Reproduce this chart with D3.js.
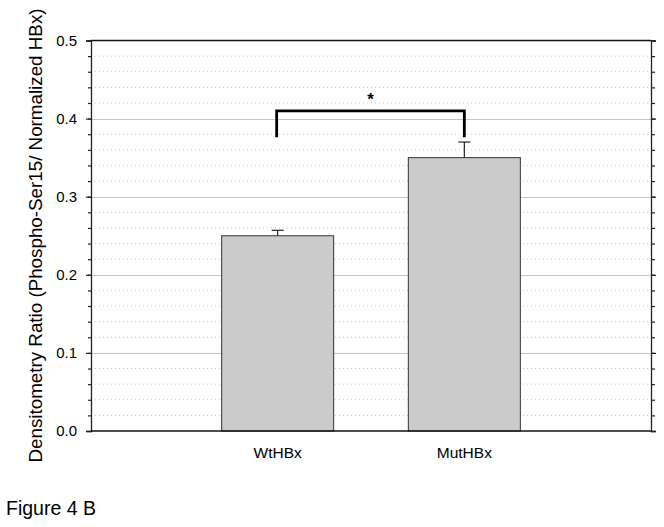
<!DOCTYPE html>
<html>
<head>
<meta charset="utf-8">
<script src="https://cdn.jsdelivr.net/npm/d3@7"></script>
<style>
  body { margin: 0; background: #fff; }
  text { font-family: "Liberation Sans", Arial, sans-serif; fill: #000; }
</style>
</head>
<body>
<div id="chart"></div>
<script>
(function () {
    // data
    var categories = ["WtHBx", "MutHBx"];
    var means = [0.25, 0.35];
    var errors = [0.007, 0.02];
    var yTicks = [0.0, 0.1, 0.2, 0.3, 0.4, 0.5];
    var yMinor = d3.range(0, 0.5001, 0.02);
    var bracket = { from: "WtHBx", to: "MutHBx", top: 0.41, bottom: 0.376, label: "*" };

    var W = 664, H = 527;
    var left = 91, right = 651, top = 40.5, bottom = 431;

    var svg = d3.select("#chart")
        .append("svg")
        .attr("width", W)
        .attr("height", H);

    var y = d3.scaleLinear().domain([0, 0.5]).range([bottom, top]);
    var x = d3.scaleBand()
        .domain(categories)
        .range([left, right])
        .paddingInner(0.4)
        .paddingOuter(0.7);

    // minor dotted grid
    svg.append("g")
        .selectAll("line")
        .data(yMinor.filter(function (v) { return Math.round(v * 100) % 10 !== 0; }))
        .join("line")
        .attr("x1", left).attr("x2", right)
        .attr("y1", function (d) { return y(d); })
        .attr("y2", function (d) { return y(d); })
        .attr("stroke", "#c8c8c8")
        .attr("stroke-width", 1)
        .attr("stroke-dasharray", "1,3");

    // major grid
    svg.append("g")
        .selectAll("line")
        .data(yTicks.slice(1, -1))
        .join("line")
        .attr("x1", left).attr("x2", right)
        .attr("y1", function (d) { return Math.round(y(d)) + 0.5; })
        .attr("y2", function (d) { return Math.round(y(d)) + 0.5; })
        .attr("stroke", "#c4c4c4")
        .attr("stroke-width", 1);

    // bars
    svg.append("g")
        .selectAll("rect")
        .data(categories)
        .join("rect")
        .attr("x", function (d) { return x(d); })
        .attr("y", function (d, i) { return y(means[i]); })
        .attr("width", x.bandwidth())
        .attr("height", function (d, i) { return y(0) - y(means[i]); })
        .attr("fill", "#cbcbcb")
        .attr("stroke", "#333")
        .attr("stroke-width", 1);

    // error bars (upper only)
    var eb = svg.append("g").attr("stroke", "#222").attr("stroke-width", 1.2);
    categories.forEach(function (c, i) {
        var cx = x(c) + x.bandwidth() / 2;
        eb.append("line")
            .attr("x1", cx).attr("x2", cx)
            .attr("y1", y(means[i])).attr("y2", y(means[i] + errors[i]));
        eb.append("line")
            .attr("x1", cx - 6).attr("x2", cx + 6)
            .attr("y1", y(means[i] + errors[i])).attr("y2", y(means[i] + errors[i]));
    });

    // axes frame
    var yAxisL = d3.axisLeft(y).tickValues(yTicks).tickSize(5).tickFormat(d3.format(".1f"));
    var gL = svg.append("g")
        .attr("transform", "translate(" + left + ",0)")
        .call(yAxisL);
    gL.selectAll("text")
        .attr("x", -14)
        .style("font-size", "15px")
        .style("font-family", "Liberation Sans, Arial, sans-serif");

    var minorL = d3.axisLeft(y).tickValues(yMinor).tickSize(3).tickFormat("");
    svg.append("g").attr("transform", "translate(" + left + ",0)").call(minorL)
        .select(".domain").remove();

    var gR = svg.append("g")
        .attr("transform", "translate(" + right + ",0)")
        .call(d3.axisRight(y).tickValues(yTicks).tickSize(5).tickFormat(""));
    svg.append("g").attr("transform", "translate(" + right + ",0)")
        .call(d3.axisRight(y).tickValues(yMinor).tickSize(4).tickFormat(""))
        .select(".domain").remove();

    svg.selectAll(".domain").attr("stroke", "#222").attr("stroke-width", 1.3);
    svg.selectAll(".tick line").attr("stroke", "#222").attr("stroke-width", 1.2);

    // top and bottom lines
    svg.append("line").attr("x1", left).attr("x2", right)
        .attr("y1", y(0.5)).attr("y2", y(0.5))
        .attr("stroke", "#111").attr("stroke-width", 1.5);
    svg.append("line").attr("x1", left).attr("x2", right)
        .attr("y1", y(0)).attr("y2", y(0))
        .attr("stroke", "#111").attr("stroke-width", 1.5);

    // x labels
    var gx = svg.append("g")
        .attr("transform", "translate(0," + bottom + ")")
        .call(d3.axisBottom(x).tickSize(0).tickPadding(0));
    gx.select(".domain").remove();
    gx.selectAll("text")
        .attr("y", 27)
        .attr("dy", 0)
        .style("font-size", "15.5px")
        .style("font-family", "Liberation Sans, Arial, sans-serif");

    // significance bracket
    var bx1 = x(bracket.from) + x.bandwidth() / 2 - 1;
    var bx2 = x(bracket.to) + x.bandwidth() / 2;
    svg.append("path")
        .attr("d", "M" + bx1 + "," + y(bracket.bottom) +
            "V" + y(bracket.top) + "H" + bx2 + "V" + y(bracket.bottom))
        .attr("fill", "none")
        .attr("stroke", "#000")
        .attr("stroke-width", 2.8);
    svg.append("text")
        .attr("x", (bx1 + bx2) / 2)
        .attr("y", y(bracket.top) - 6)
        .attr("text-anchor", "middle")
        .style("font-size", "17px")
        .style("font-weight", "bold")
        .text(bracket.label);

    // y title
    svg.append("text")
        .attr("transform", "translate(42," + 235.5 + ") rotate(-90)")
        .attr("text-anchor", "middle")
        .style("font-size", "18.8px")
        .text("Densitometry Ratio (Phospho-Ser15/ Normalized HBx)");

    // figure caption
    svg.append("text")
        .attr("x", 6)
        .attr("y", 515)
        .style("font-size", "19.5px")
        .text("Figure 4 B");
}());
</script>
</body>
</html>
